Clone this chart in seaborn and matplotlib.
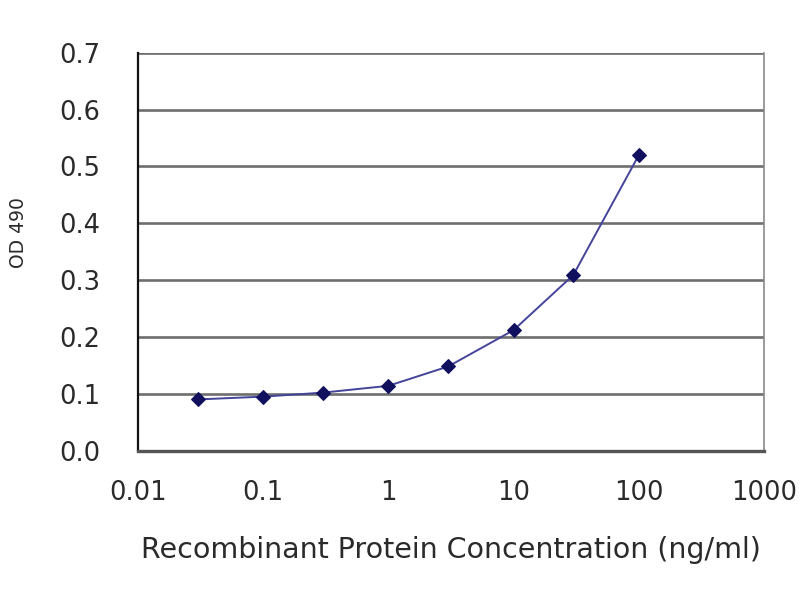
import numpy as np
import pandas as pd
import seaborn as sns
import matplotlib.pyplot as plt
from matplotlib.ticker import FormatStrFormatter

# 数据
conc = [0.03, 0.1, 0.3, 1, 3, 10, 30, 100]
od490 = [0.090, 0.095, 0.102, 0.114, 0.148, 0.212, 0.309, 0.520]
x_ticks = [0.01, 0.1, 1, 10, 100, 1000]
x_tick_labels = ['0.01', '0.1', '1', '10', '100', '1000']
y_ticks = [0.0, 0.1, 0.2, 0.3, 0.4, 0.5, 0.6, 0.7]

df = pd.DataFrame({'conc': conc, 'od': od490})

sns.set_theme(style='white')
plt.rcParams['font.family'] = ['DejaVu Sans']

fig, ax = plt.subplots(figsize=(8, 6), dpi=100)
fig.subplots_adjust(left=0.1725, right=0.955, bottom=0.249, top=0.912)

# 网格线
for v in y_ticks[1:]:
    ax.axhline(v, color='#6e6e6e', lw=1.9, zorder=1)

sns.lineplot(data=df, x='conc', y='od', ax=ax, color='#44449a', lw=1.4,
             marker='D', markersize=7.5, markerfacecolor='#10105e',
             markeredgecolor='#10105e', zorder=3)

ax.set_xscale('log')
ax.set_xlim(0.01, 1000)
ax.set_ylim(0, 0.7)
ax.set_xticks(x_ticks)
ax.set_xticklabels(x_tick_labels)
ax.minorticks_off()
ax.set_yticks(y_ticks)
ax.yaxis.set_major_formatter(FormatStrFormatter('%.1f'))

ax.tick_params(axis='x', direction='in', length=5, width=1, color='#444444',
               labelsize=18.5, pad=21, labelcolor='#2a2a2a')
ax.tick_params(axis='y', length=0, labelsize=18.5, pad=27, labelcolor='#2a2a2a')

ax.set_xlabel('Recombinant Protein Concentration (ng/ml)', fontsize=20.5,
              color='#2a2a2a', va='top')
ax.xaxis.set_label_coords(0.5, -0.214)
ax.set_ylabel('OD 490', fontsize=13.5, color='#2a2a2a')
ax.yaxis.set_label_coords(-0.176, 0.547)

ax.spines['top'].set_visible(False)
ax.spines['left'].set_color('#111111')
ax.spines['left'].set_linewidth(1.6)
ax.spines['bottom'].set_color('#555555')
ax.spines['bottom'].set_linewidth(2.4)
ax.spines['right'].set_color('#8a8a8a')
ax.spines['right'].set_linewidth(1.2)

fig.savefig('out.png', dpi=100, facecolor='white')
